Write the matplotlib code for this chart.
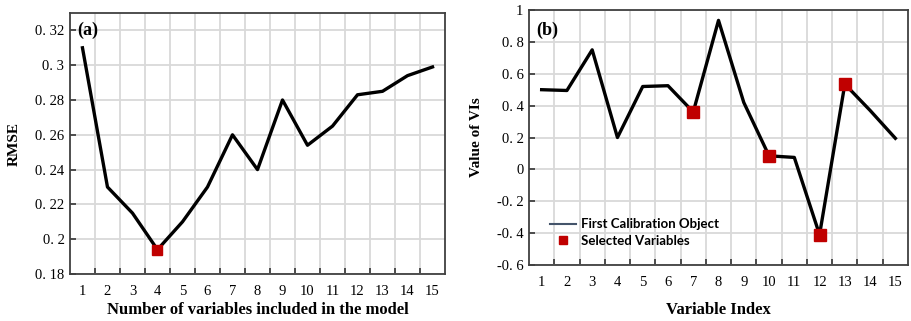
import matplotlib
matplotlib.use("Agg")
from matplotlib import pyplot as plt
from matplotlib.lines import Line2D

# dados
n_vars = list(range(1, 16))
rmse = [0.31, 0.23, 0.215, 0.194, 0.21, 0.23, 0.26, 0.24, 0.28, 0.254,
        0.265, 0.283, 0.285, 0.294, 0.299]
best_n = [4]
best_rmse = [0.194]

var_index = list(range(1, 16))
vis = [0.50, 0.495, 0.75, 0.20, 0.52, 0.525, 0.36, 0.935, 0.42, 0.085,
       0.075, -0.41, 0.535, 0.37, 0.195]
sel_index = [7, 10, 12, 13]
sel_vis = [0.36, 0.085, -0.41, 0.535]

rmse_ticks = [0.18, 0.20, 0.22, 0.24, 0.26, 0.28, 0.30, 0.32]
rmse_labels = ["0. 18", "0. 2", "0. 22", "0. 24", "0. 26", "0. 28", "0. 3", "0. 32"]
vis_ticks = [-0.6, -0.4, -0.2, 0, 0.2, 0.4, 0.6, 0.8, 1.0]
vis_labels = ["-0. 6", "-0. 4", "-0. 2", "0", "0. 2", "0. 4", "0. 6", "0. 8", "1"]

serif = "Liberation Serif"
red = "#C00000"

fig = plt.figure(figsize=(9.11, 3.21), dpi=100)
ax1 = fig.add_axes([0.0768, 0.1464, 0.4117, 0.8131])
ax2 = fig.add_axes([0.5807, 0.1745, 0.4160, 0.7943])


def style(ax, ylim, yticks, ylabels):
    ax.set_xlim(0.5, 15.5)
    ax.set_ylim(*ylim)
    # grade vertical nas fronteiras das categorias
    bounds = [i + 0.5 for i in range(1, 15)]
    for b in bounds:
        ax.axvline(b, color="#D9D9D9", lw=1.3, zorder=0)
    ax.set_yticks(yticks)
    ax.set_yticklabels(ylabels, fontfamily=serif, fontsize=10.5)
    ax.yaxis.grid(True, color="#D9D9D9", lw=1.3)
    ax.set_axisbelow(True)
    ax.set_xticks(bounds)
    ax.set_xticklabels([])
    ax.set_xticks(list(range(1, 16)), minor=True)
    ax.set_xticklabels([str(i) for i in range(1, 16)], minor=True,
                       fontfamily=serif, fontsize=10.5)
    ax.tick_params(axis="x", which="minor", length=0, pad=8)
    ax.tick_params(axis="x", which="major", direction="in", length=4,
                   width=1.2, color="#333333")
    ax.tick_params(axis="y", direction="in", length=4, width=1.2,
                   color="#333333", pad=4)
    for s in ax.spines.values():
        s.set_color("#404040")
        s.set_linewidth(1.3)


style(ax1, (0.18, 0.33), rmse_ticks, rmse_labels)
ax1.plot(n_vars, rmse, color="black", lw=2.4, zorder=3)
ax1.plot(best_n, best_rmse, "s", color=red, ms=7.5, zorder=4)
ax1.text(0.02, 0.965, "(a)", transform=ax1.transAxes, ha="left", va="top",
         fontfamily=serif, fontweight="bold", fontsize=13)
ax1.set_ylabel("RMSE", fontfamily=serif, fontweight="bold", fontsize=11,
               labelpad=10)
ax1.set_xlabel("Number of variables included in the model", fontfamily=serif,
               fontweight="bold", fontsize=12, labelpad=3)

style(ax2, (-0.6, 1.0), vis_ticks, vis_labels)
ax2.plot(var_index, vis, color="black", lw=2.4, zorder=3)
ax2.plot(sel_index, sel_vis, "s", color=red, ms=8, zorder=4)
ax2.text(0.02, 0.955, "(b)", transform=ax2.transAxes, ha="left", va="top",
         fontfamily=serif, fontweight="bold", fontsize=13)
ax2.set_ylabel("Value of VIs", fontfamily=serif, fontweight="bold",
               fontsize=11, labelpad=10)
ax2.set_xlabel("Variable Index", fontfamily=serif, fontweight="bold",
               fontsize=12, labelpad=9)

handles = [Line2D([], [], color="#44546A", lw=1.5),
           Line2D([], [], ls="none", marker="s", color=red, ms=6)]
ax2.legend(handles, ["First Calibration Object", "Selected Variables"],
           loc="lower left", bbox_to_anchor=(0.03, 0.035), frameon=False,
           prop={"family": "Lato", "weight": "bold", "size": 9.5},
           handlelength=2.0, handletextpad=0.4, labelspacing=0.35,
           borderpad=0.2)

fig.savefig("out.png", dpi=100)
